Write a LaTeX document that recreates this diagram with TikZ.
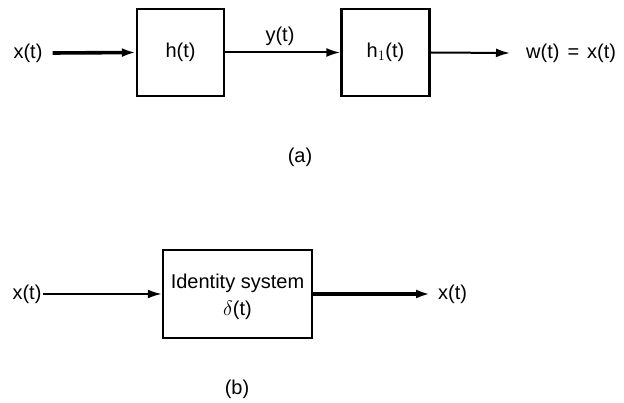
\documentclass[tikz,border=0pt]{standalone}
\usepackage{fontspec}
\setmainfont{Liberation Sans}
\usetikzlibrary{arrows.meta}
\begin{document}
\begin{tikzpicture}[x=1pt,y=-1pt,
  blk/.style={draw,line width=2.4pt,inner sep=0pt,font=\fontsize{20}{24}\selectfont},
  lbl/.style={inner sep=1pt,font=\fontsize{20}{24}\selectfont},
  sig/.style={line width=2pt,-{Latex[length=14pt,width=9pt]}},
  sigthick/.style={line width=3.6pt,-{Latex[length=14pt,width=9pt]}}]
\useasboundingbox (0,0) rectangle (624,403);
% (a)
\node[lbl] (xa) at (28,53) {x(t)};
\node[blk,minimum width=87pt,minimum height=87pt] (h) at (180.5,52.5) {h(t)};
\node[blk,minimum width=88pt,minimum height=87pt] (h1) at (385.5,52.5) {h$_1$(t)};
\node[lbl,anchor=west] (wa) at (525,53) {w(t)\hspace{8pt}=\hspace{8pt}x(t)};
\node[lbl] (ya) at (280,36) {y(t)};
\node[lbl] (capa) at (300,157) {(a)};
\draw[sigthick] ([xshift=9pt]xa.east) -- (h.west);
\draw[sig] (h.east) -- (h1.west);
\draw[sig] (h1.east) -- ([xshift=-15pt]wa.west);
% (b)
\node[lbl] (xb) at (27,294) {x(t)};
\node[blk,minimum width=149pt,minimum height=88pt] (id) at (237.5,294) {};
\node[lbl,align=center] (idt) at (237.5,297) {Identity system\\[3pt]$\delta$(t)};
\node[lbl,anchor=west] (xo) at (437,294) {x(t)};
\node[lbl] (capb) at (237,389) {(b)};
\draw[sig] (xb.east) -- (xb.east -| id.west);
\draw[sigthick] (id.east) -- ([xshift=-7pt]xo.west);
\end{tikzpicture}
\end{document}
